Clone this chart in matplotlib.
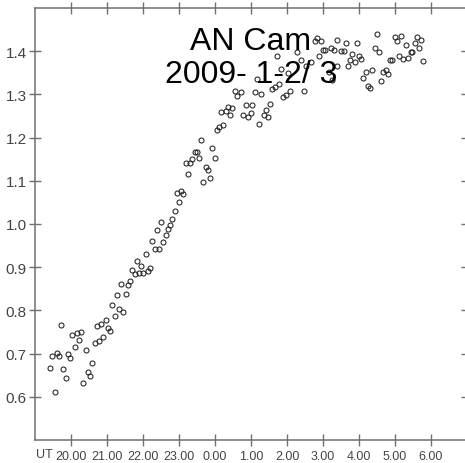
import matplotlib
matplotlib.use("Agg")
import matplotlib.pyplot as plt


# -----------------------------
# Light curve data (UT hours, past midnight continues as 24+)
# -----------------------------

ut_hours = [
    19.42, 19.48, 19.55, 19.60, 19.67, 19.73, 19.79, 19.85, 19.92, 19.97,
    20.04, 20.10, 20.16, 20.22, 20.29, 20.34, 20.41, 20.47, 20.53, 20.59,
    20.66, 20.71, 20.78, 20.84, 20.90, 20.96, 21.03, 21.08, 21.15, 21.21,
    21.27, 21.33, 21.40, 21.45, 21.52, 21.58, 21.64, 21.70, 21.77, 21.83,
    21.89, 21.95, 22.01, 22.08, 22.14, 22.19, 22.26, 22.33, 22.38, 22.44,
    22.51, 22.56, 22.63, 22.69, 22.75, 22.81, 22.88, 22.94, 23.00, 23.06,
    23.12, 23.19, 23.25, 23.31, 23.37, 23.44, 23.49, 23.56, 23.62, 23.68,
    23.74, 23.81, 23.86, 23.93, 23.99, 24.05, 24.11, 24.18, 24.23, 24.30,
    24.36, 24.42, 24.48, 24.55, 24.60, 24.71, 24.79, 24.85, 24.93, 24.99,
    25.02, 25.11, 25.16, 25.22, 25.28, 25.36, 25.41, 25.48, 25.53, 25.59,
    25.67, 25.73, 25.78, 25.84, 25.90, 25.96, 26.02, 26.08, 26.27, 26.38,
    26.47, 26.52, 26.66, 26.77, 26.84, 26.89, 26.95, 27.01, 27.06, 27.17,
    27.21, 27.25, 27.31, 27.38, 27.40, 27.51, 27.58, 27.63, 27.70, 27.75,
    27.81, 27.88, 27.94, 28.00, 28.06, 28.12, 28.19, 28.25, 28.31, 28.37,
    28.44, 28.49, 28.56, 28.62, 28.68, 28.74, 28.81, 28.86, 28.93, 28.99,
    29.06, 29.11, 29.18, 29.23, 29.30, 29.36, 29.44, 29.48, 29.55, 29.60,
    29.67, 29.73, 29.79,
]

values = [
    0.666, 0.694, 0.610, 0.702, 0.694, 0.767, 0.664, 0.643, 0.699, 0.689,
    0.743, 0.715, 0.748, 0.732, 0.750, 0.632, 0.709, 0.657, 0.648, 0.678,
    0.725, 0.764, 0.730, 0.768, 0.739, 0.777, 0.760, 0.753, 0.813, 0.788,
    0.836, 0.804, 0.861, 0.797, 0.839, 0.859, 0.868, 0.893, 0.885, 0.914,
    0.887, 0.902, 0.887, 0.931, 0.891, 0.899, 0.961, 0.941, 0.987, 0.941,
    1.004, 0.959, 0.975, 0.989, 0.997, 1.011, 1.031, 1.072, 1.050, 1.077,
    1.069, 1.141, 1.115, 1.141, 1.151, 1.167, 1.167, 1.152, 1.195, 1.098,
    1.132, 1.125, 1.107, 1.177, 1.152, 1.217, 1.224, 1.260, 1.229, 1.262,
    1.270, 1.252, 1.268, 1.308, 1.296, 1.306, 1.252, 1.275, 1.247, 1.256,
    1.275, 1.306, 1.335, 1.232, 1.300, 1.252, 1.264, 1.248, 1.277, 1.313,
    1.316, 1.388, 1.323, 1.359, 1.295, 1.299, 1.349, 1.308, 1.397, 1.380,
    1.308, 1.365, 1.376, 1.423, 1.430, 1.390, 1.424, 1.402, 1.402, 1.353,
    1.407, 1.333, 1.402, 1.426, 1.365, 1.401, 1.401, 1.419, 1.365, 1.380,
    1.393, 1.376, 1.420, 1.390, 1.382, 1.339, 1.353, 1.319, 1.314, 1.357,
    1.407, 1.440, 1.397, 1.331, 1.353, 1.357, 1.347, 1.380, 1.380, 1.432,
    1.424, 1.390, 1.436, 1.382, 1.415, 1.384, 1.398, 1.398, 1.420, 1.433,
    1.407, 1.426, 1.378,
]

x_ticks = [20, 21, 22, 23, 24, 25, 26, 27, 28, 29, 30]
x_tick_labels = ["20.00", "21.00", "22.00", "23.00", "0.00", "1.00",
                 "2.00", "3.00", "4.00", "5.00", "6.00"]
y_ticks = [0.6, 0.7, 0.8, 0.9, 1.0, 1.1, 1.2, 1.3, 1.4]

title_lines = ["AN Cam", "2009- 1-2/ 3"]


# -----------------------------
# Plot
# -----------------------------

plain = ["Liberation Sans", "DejaVu Sans"]
axis_grey = "#707070"
label_grey = "#444444"

fig = plt.figure(figsize=(4.65, 4.64), dpi=100)
ax = fig.add_axes([35 / 465, 23 / 464, 432 / 465, 432 / 464])

ax.plot(ut_hours, values, linestyle="none", marker="o", markersize=3.6,
        markerfacecolor="none", markeredgecolor="#222222",
        markeredgewidth=0.75)

ax.set_xlim(19, 31)
ax.set_ylim(0.5, 1.5)

ax.set_xticks(x_ticks)
ax.set_xticklabels(x_tick_labels, family=plain, fontsize=9, color=label_grey)
ax.set_yticks(y_ticks)
ax.set_yticklabels(["%.1f" % v for v in y_ticks], family=plain, fontsize=11,
                   color=label_grey)

ax.tick_params(axis="both", direction="inout", length=8, width=1.0,
               color=axis_grey, top=True, right=True, pad=2)
ax.tick_params(axis="x", pad=3)

for side in ax.spines.values():
    side.set_color(axis_grey)
    side.set_linewidth(1.1)

fig.text(36 / 465, 1 - 458 / 464, "UT", family=plain, fontsize=9,
         color=label_grey, ha="left", va="baseline")

fig.text(251 / 465, 1 - 50 / 464, title_lines[0], family=plain, fontsize=23,
         ha="center", va="baseline")
fig.text(251 / 465, 1 - 83 / 464, title_lines[1], family=plain, fontsize=23,
         ha="center", va="baseline")

fig.savefig("out.png", dpi=100)
